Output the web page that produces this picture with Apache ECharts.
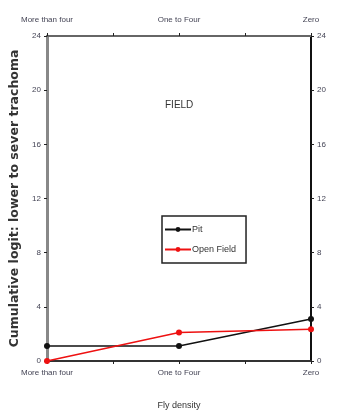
<!DOCTYPE html>
<html>
<head>
<meta charset="utf-8">
<script src="https://cdn.jsdelivr.net/npm/echarts@6/dist/echarts.min.js"></script>
<style>
  html, body { margin: 0; padding: 0; background: #fff; }
  #chart { width: 341px; height: 417px; }
</style>
</head>
<body>
<div id="chart"></div>
<script>
// Fly density groups along the x axis
const categories = ['More than four', 'One to Four', 'Zero'];
// Cumulative logit per group
const pitValues = [1.1, 1.1, 3.1];
const openFieldValues = [0, 2.1, 2.35];
// Y axis range and step
const yTicks = [0, 4, 8, 12, 16, 20, 24];

const chart = echarts.init(document.getElementById('chart'));

const narrow = 'Liberation Sans Narrow, Liberation Sans, sans-serif';
const labelFont = { fontFamily: narrow, fontSize: 8, color: '#445' };

function catLabel(v) {
  return Number.isInteger(v) && categories[v] !== undefined ? categories[v] : '';
}

const xBase = {
  type: 'value',
  min: 0,
  max: categories.length - 1,
  interval: 0.5,
  splitLine: { show: false },
  axisTick: { show: true, length: 3, inside: false, lineStyle: { color: '#222' } },
  axisLabel: Object.assign({ formatter: catLabel, margin: 8, showMinLabel: true, showMaxLabel: true, hideOverlap: false }, labelFont)
};

const yBase = {
  type: 'value',
  min: yTicks[0],
  max: yTicks[yTicks.length - 1],
  interval: yTicks[1] - yTicks[0],
  splitLine: { show: false },
  axisTick: { show: true, length: 3, lineStyle: { color: '#222' } },
  axisLabel: Object.assign({ margin: 6 }, labelFont)
};

chart.setOption({
  animation: false,
  backgroundColor: '#fff',
  grid: { left: 47, right: 30, top: 36, bottom: 56, containLabel: false, outerBoundsMode: 'none' },
  xAxis: [
    Object.assign({}, xBase, {
      position: 'bottom',
      name: 'Fly density',
      nameLocation: 'middle',
      nameGap: 40,
      nameTextStyle: { fontFamily: narrow, fontSize: 9, color: '#333' },
      axisLine: { show: true, onZero: false, lineStyle: { color: '#333', width: 2 } }
    }),
    Object.assign({}, xBase, {
      position: 'top',
      axisLabel: Object.assign({ formatter: catLabel, margin: 12, showMinLabel: true, showMaxLabel: true, hideOverlap: false }, labelFont),
      axisLine: { show: true, onZero: false, lineStyle: { color: '#666', width: 2 } }
    })
  ],
  yAxis: [
    Object.assign({}, yBase, {
      position: 'left',
      name: 'Cumulative logit: lower to sever trachoma',
      nameLocation: 'middle',
      nameGap: 23,
      nameTextStyle: { fontFamily: 'DejaVu Sans, sans-serif', fontSize: 12.5, fontWeight: 'bold', color: '#333' },
      axisLine: { show: true, onZero: false, lineStyle: { color: '#888', width: 3 } }
    }),
    Object.assign({}, yBase, {
      position: 'right',
      axisLine: { show: true, onZero: false, lineStyle: { color: '#111', width: 2 } }
    })
  ],
  legend: {
    orient: 'vertical',
    left: 162,
    top: 216,
    padding: [9, 10, 9, 2],
    itemGap: 11,
    itemWidth: 26,
    itemHeight: 6,
    borderColor: '#222',
    borderWidth: 1.5,
    textStyle: { fontFamily: narrow, fontSize: 9, color: '#333', padding: [0, 0, 0, -4] },
    data: ['Pit', 'Open Field']
  },
  graphic: [{
    type: 'text',
    left: 165,
    top: 100,
    style: { text: 'FIELD', font: '10px "Liberation Sans Narrow", "Liberation Sans", sans-serif', fill: '#333' }
  }],
  series: [
    {
      name: 'Pit',
      type: 'line',
      data: pitValues.map((v, i) => [i, v]),
      symbol: 'circle',
      symbolSize: 6,
      color: '#111',
      lineStyle: { width: 1.5, color: '#111' }
    },
    {
      name: 'Open Field',
      type: 'line',
      data: openFieldValues.map((v, i) => [i, v]),
      symbol: 'circle',
      symbolSize: 6,
      color: '#ee1111',
      lineStyle: { width: 1.5, color: '#ee1111' }
    }
  ]
});
</script>
</body>
</html>
